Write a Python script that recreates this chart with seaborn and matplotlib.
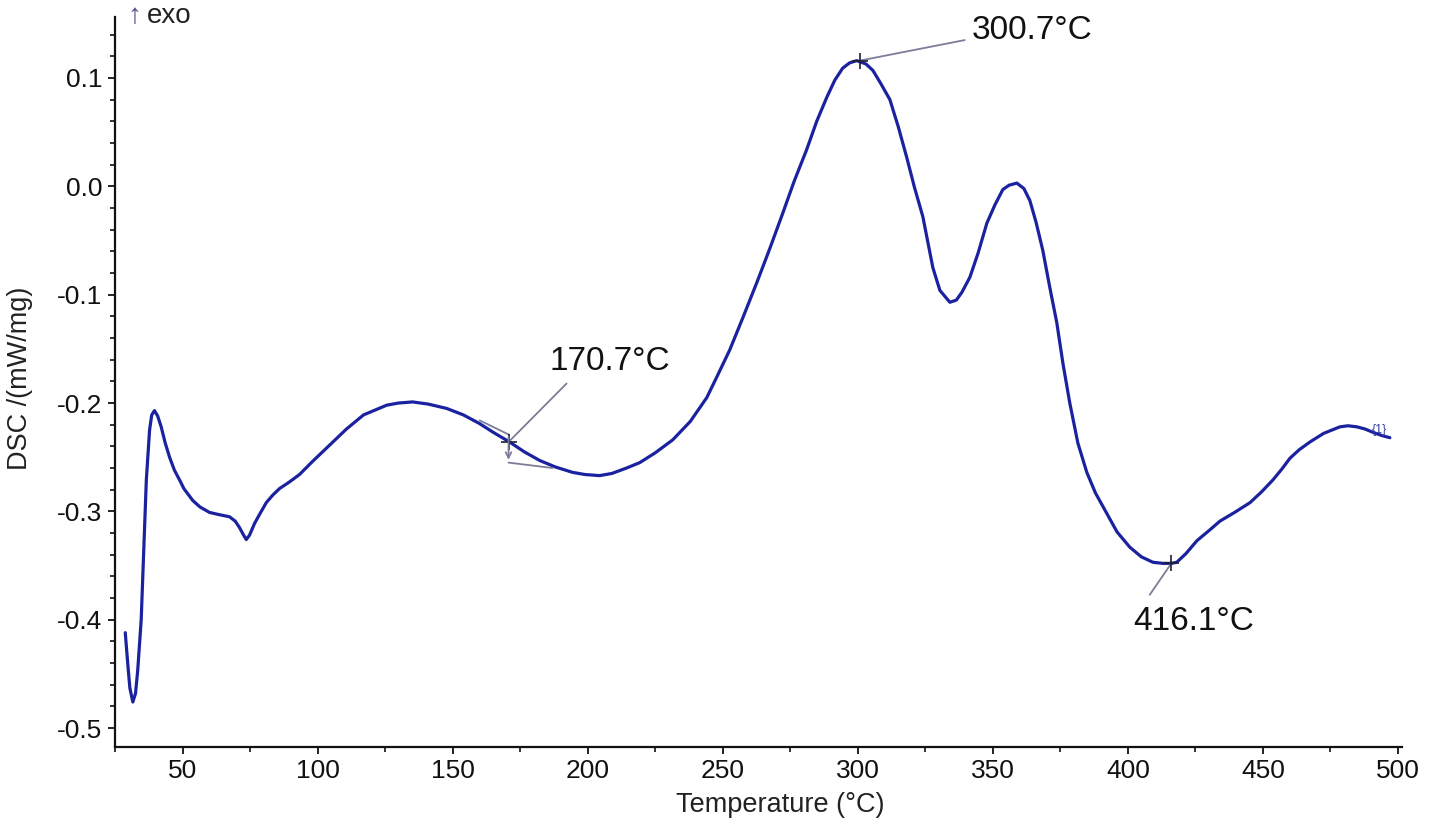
import numpy as np
import pandas as pd
import matplotlib
matplotlib.use("Agg")
import matplotlib.pyplot as plt
from matplotlib.ticker import MultipleLocator, FormatStrFormatter
import seaborn as sns

# ---- data ----
temperature = [28.8, 29.7, 30.5, 31.6, 32.6, 33.4, 34.7, 35.6, 36.6, 37.8, 38.6, 39.6,
               40.8, 42.1, 43.6, 45.2, 47.0, 48.9, 50.5, 53.8, 56.5, 60.0, 63.5, 67.4,
               69.5, 71.1, 72.4, 73.6, 74.8, 76.7, 78.7, 81.0, 83.4, 85.9, 89.5,
               93.3, 98.1, 104.0, 110.7, 117.0, 125.6, 130.0, 135.2, 141.0, 147.8,
               154.0, 160.0, 165.0, 171.1, 176.5, 182.2, 188.0, 194.4, 199.0,
               204.4, 209.0, 214.4, 219.3, 225.0, 231.5, 238.0, 244.1, 248.0, 252.6,
               257.5, 262.6, 267.5, 272.2, 276.5, 281.1, 284.8, 288.5, 291.5,
               294.4, 297.0, 299.6, 303.0, 305.6, 308.5, 311.9, 315.0, 318.1, 321.0,
               324.1, 326.0, 327.8, 330.4, 334.1, 336.5, 338.5, 341.5, 344.5, 347.8,
               350.8, 353.7, 356.0, 358.9, 361.5, 363.7, 366.0, 368.5, 371.0, 373.7,
               376.0, 378.5, 381.5, 384.8, 388.0, 392.2, 396.0, 400.7, 405.0, 409.3,
               413.0, 416.1, 418.1, 421.5, 425.6, 430.4, 434.1, 439.5, 445.2, 449.5,
               453.7, 457.0, 460.0, 463.5, 467.4, 472.5, 478.5, 481.5, 484.8, 487.8,
               490.7, 494.0, 497.0]
dsc = [-0.412, -0.440, -0.463, -0.476, -0.468, -0.447, -0.400, -0.339, -0.271, -0.225,
       -0.211, -0.207, -0.212, -0.222, -0.237, -0.250, -0.262, -0.271, -0.279, -0.290,
       -0.296, -0.301, -0.303, -0.305, -0.309, -0.315, -0.321, -0.326, -0.322, -0.311,
       -0.302, -0.292, -0.285, -0.279, -0.273,
       -0.266, -0.254, -0.240, -0.224, -0.211, -0.202, -0.200, -0.199, -0.201, -0.205,
       -0.211, -0.219, -0.227, -0.236, -0.245, -0.253, -0.259, -0.264, -0.266,
       -0.267, -0.265, -0.260, -0.255, -0.246, -0.234, -0.217, -0.195, -0.175, -0.151,
       -0.121, -0.089, -0.057, -0.025, 0.005, 0.034, 0.060, 0.082, 0.098,
       0.109, 0.114, 0.116, 0.113, 0.107, 0.095, 0.080, 0.055, 0.027, -0.001,
       -0.028, -0.052, -0.075, -0.096, -0.107, -0.105, -0.098, -0.084, -0.062, -0.034,
       -0.017, -0.003, 0.001, 0.003, -0.002, -0.013, -0.033, -0.059, -0.092, -0.126,
       -0.164, -0.200, -0.237, -0.264, -0.283, -0.302, -0.319, -0.333, -0.342, -0.347,
       -0.348, -0.348, -0.347, -0.339, -0.327, -0.317, -0.309, -0.301, -0.292, -0.282,
       -0.271, -0.261, -0.251, -0.243, -0.236, -0.228, -0.222, -0.221, -0.222, -0.224,
       -0.227, -0.230, -0.232]

# peak annotations
peak_temps = [170.7, 300.7, 416.1]
peak_vals = [-0.236, 0.116, -0.348]
peak_labels = ["170.7°C", "300.7°C", "416.1°C"]
leader_end_x = [192.2, 339.6, 408.1]
leader_end_y = [-0.182, 0.135, -0.377]
label_x = [185.9, 342.2, 401.9]
label_y = [-0.162, 0.144, -0.402]

# onset tangent construction near 170.7 °C
tangent_upper_x = [160.0, 170.7]
tangent_upper_y = [-0.216, -0.229]
tangent_lower_x = [170.7, 187.0]
tangent_lower_y = [-0.255, -0.260]

xticks = [50, 100, 150, 200, 250, 300, 350, 400, 450, 500]
yticks = [-0.5, -0.4, -0.3, -0.2, -0.1, 0.0, 0.1]

df = pd.DataFrame({"Temperature": temperature, "DSC": dsc})

sns.set_style("ticks")
plt.rcParams["font.family"] = ["Liberation Sans", "DejaVu Sans"]
plt.rcParams["axes.unicode_minus"] = False

fig = plt.figure(figsize=(14.29, 8.32), dpi=100)
ax = fig.add_axes([115 / 1429, 1 - 747 / 832, (1402 - 115) / 1429, (747 - 17) / 832])

line_color = "#1b22a0"
sns.lineplot(data=df, x="Temperature", y="DSC", ax=ax, color=line_color,
             linewidth=2.3, sort=False, estimator=None)

grey = "#7c7c98"
ax.plot(tangent_upper_x, tangent_upper_y, color=grey, lw=1.3)
ax.plot(tangent_lower_x, tangent_lower_y, color=grey, lw=1.3)
ax.annotate("", xy=(tangent_lower_x[0], tangent_lower_y[0]),
            xytext=(tangent_upper_x[1], tangent_upper_y[1]),
            arrowprops=dict(arrowstyle="->", color=grey, lw=1.3))

for px, py, lab, ex, ey, tx, ty in zip(peak_temps, peak_vals, peak_labels,
                                       leader_end_x, leader_end_y, label_x, label_y):
    ax.plot([px, ex], [py, ey], color=grey, lw=1.3)
    ax.plot([px], [py], marker="+", color="#202030", markersize=11, mew=1.2)
    ax.text(tx, ty, lab, fontsize=24, ha="left", va="center", color="#111111")

ax.text(493.3, -0.225, "{1}", fontsize=9, color="#3040a0", ha="center", va="center")

ax.set_xlim(25, 501.5)
ax.set_ylim(-0.5175, 0.1563)
ax.set_xticks(xticks)
ax.set_yticks(yticks)
ax.xaxis.set_minor_locator(MultipleLocator(25))
ax.yaxis.set_minor_locator(MultipleLocator(0.02))
ax.yaxis.set_major_formatter(FormatStrFormatter("%.1f"))

sns.despine(ax=ax)
for s in ["left", "bottom"]:
    ax.spines[s].set_linewidth(1.6)
    ax.spines[s].set_color("#111111")
ax.tick_params(which="major", length=5, width=1.3, pad=4, labelsize=19,
               colors="#111111", direction="out")
ax.tick_params(which="minor", length=3.5, width=1.2, colors="#111111", direction="out")

ax.set_xlabel("Temperature (°C)", fontsize=19.5, color="#222222")
ax.set_ylabel("DSC /(mW/mg)", fontsize=19.5, color="#222222")
ax.xaxis.set_label_coords(0.517, -0.062)
ax.yaxis.set_label_coords(-0.064, 0.505)

fig.text(127 / 1429, 1 - 16 / 832, "↑", fontsize=20, color="#5a4a8a",
         ha="left", va="center")
fig.text(147 / 1429, 1 - 16 / 832, "exo", fontsize=20, color="#222222",
         ha="left", va="center")

fig.savefig("out.png", dpi=100)
